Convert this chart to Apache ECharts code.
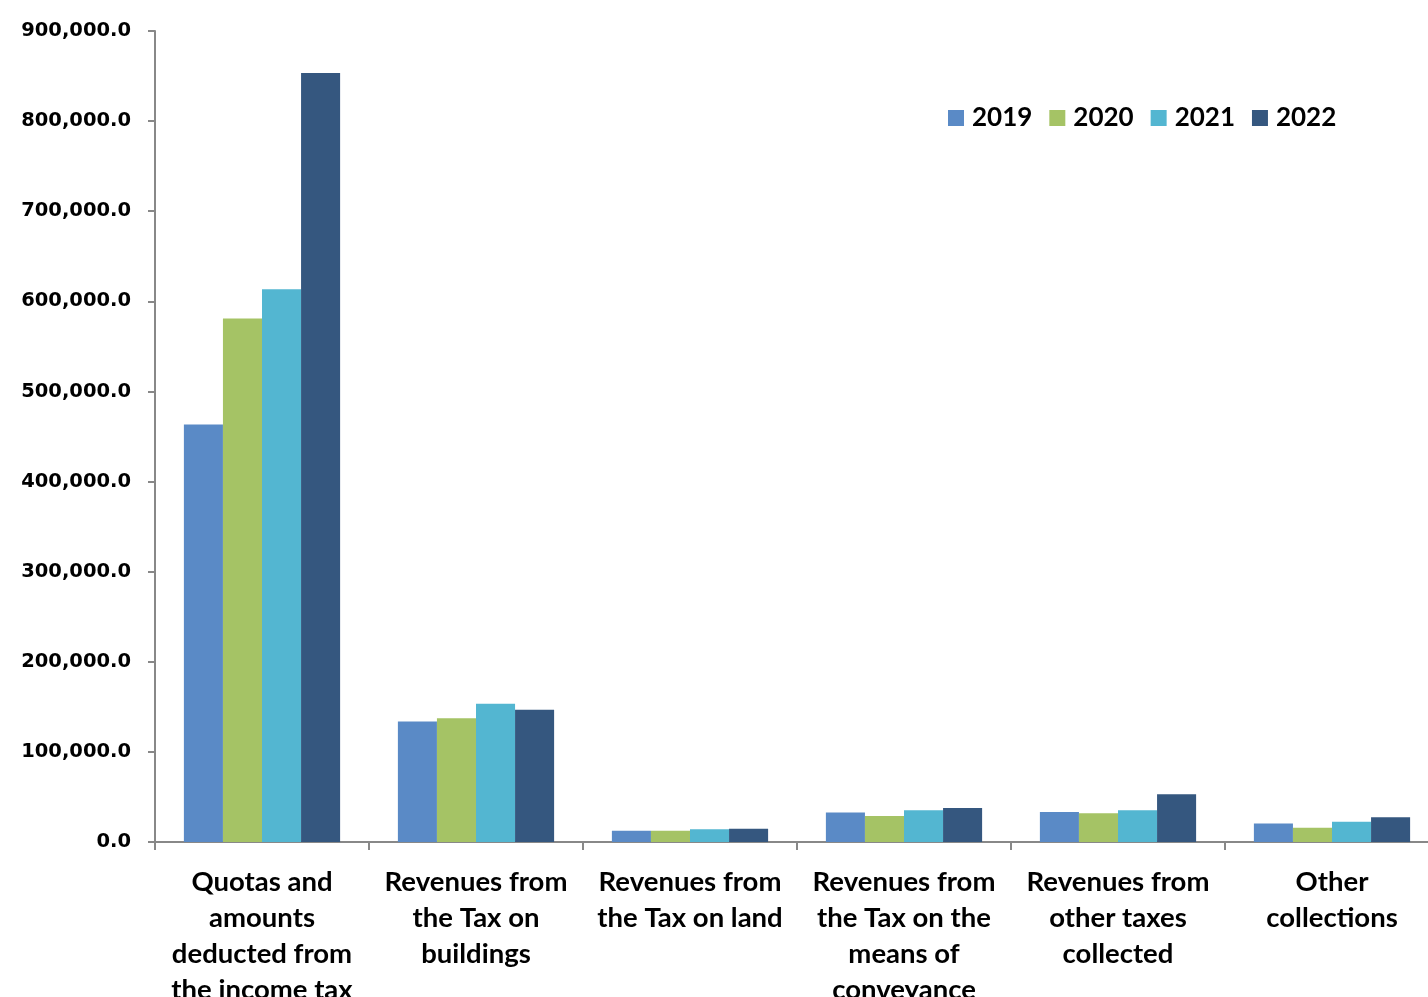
<!DOCTYPE html>
<html>
<head>
<meta charset="utf-8">
<script src="https://cdn.jsdelivr.net/npm/echarts@6/dist/echarts.min.js"></script>
<style>
html,body{margin:0;padding:0;background:#fff;}
#chart{width:1428px;height:997px;}
</style>
</head>
<body>
<div id="chart"></div>
<script>
const categories = [
  "Quotas and\namounts\ndeducted from\nthe income tax",
  "Revenues from\nthe Tax on\nbuildings",
  "Revenues from\nthe Tax on land",
  "Revenues from\nthe Tax on the\nmeans of\nconveyance",
  "Revenues from\nother taxes\ncollected",
  "Other\ncollections"
];
const years = ["2019", "2020", "2021", "2022"];
const values2019 = [463300, 133700, 12600, 32600, 33300, 20400];
const values2020 = [581000, 137400, 12600, 28900, 31900, 15900];
const values2021 = [613300, 153300, 14100, 35200, 35200, 22600];
const values2022 = [853300, 146700, 14800, 37800, 53000, 27400];
const yTicks = [0, 100000, 200000, 300000, 400000, 500000, 600000, 700000, 800000, 900000];

const colors = ["#5A8AC6", "#A5C365", "#53B6D1", "#35577F"];
const seriesValues = [values2019, values2020, values2021, values2022];

const chart = echarts.init(document.getElementById('chart'), null, {renderer: 'canvas'});
chart.setOption({
  animation: false,
  backgroundColor: '#ffffff',
  legend: {
    data: years,
    left: 943,
    top: 100,
    itemWidth: 16,
    itemHeight: 16,
    itemGap: 17,
    icon: 'rect',
    textStyle: {fontFamily: 'Lato', fontWeight: 'bold', fontSize: 26, color: '#000', padding: [0, 0, 0, 3]}
  },
  grid: {left: 155, top: 31, width: 1284, bottom: 155, containLabel: false, outerBoundsMode: 'none'},
  xAxis: {
    type: 'category',
    data: categories,
    axisLine: {lineStyle: {color: '#888888', width: 2}},
    axisTick: {show: true, length: 8, lineStyle: {color: '#888888', width: 2}},
    axisLabel: {
      interval: 0,
      margin: 22,
      fontFamily: 'Lato',
      fontWeight: 'bold',
      fontSize: 27.5,
      lineHeight: 36,
      color: '#000'
    }
  },
  yAxis: {
    type: 'value',
    min: yTicks[0],
    max: yTicks[yTicks.length - 1],
    interval: 100000,
    splitLine: {show: false},
    axisLine: {show: true, lineStyle: {color: '#888888', width: 2}},
    axisTick: {show: true, length: 7, lineStyle: {color: '#888888', width: 2}},
    axisLabel: {
      margin: 24,
      fontFamily: 'DejaVu Sans',
      fontWeight: 'bold',
      fontSize: 19.5,
      color: '#000',
      formatter: function (v) {
        return v.toLocaleString('en-US', {minimumFractionDigits: 1, maximumFractionDigits: 1});
      }
    }
  },
  series: years.map(function (y, i) {
    return {
      name: y,
      type: 'bar',
      data: seriesValues[i],
      barGap: '0%',
      barCategoryGap: '27%',
      itemStyle: {color: colors[i]}
    };
  })
});
</script>
</body>
</html>
